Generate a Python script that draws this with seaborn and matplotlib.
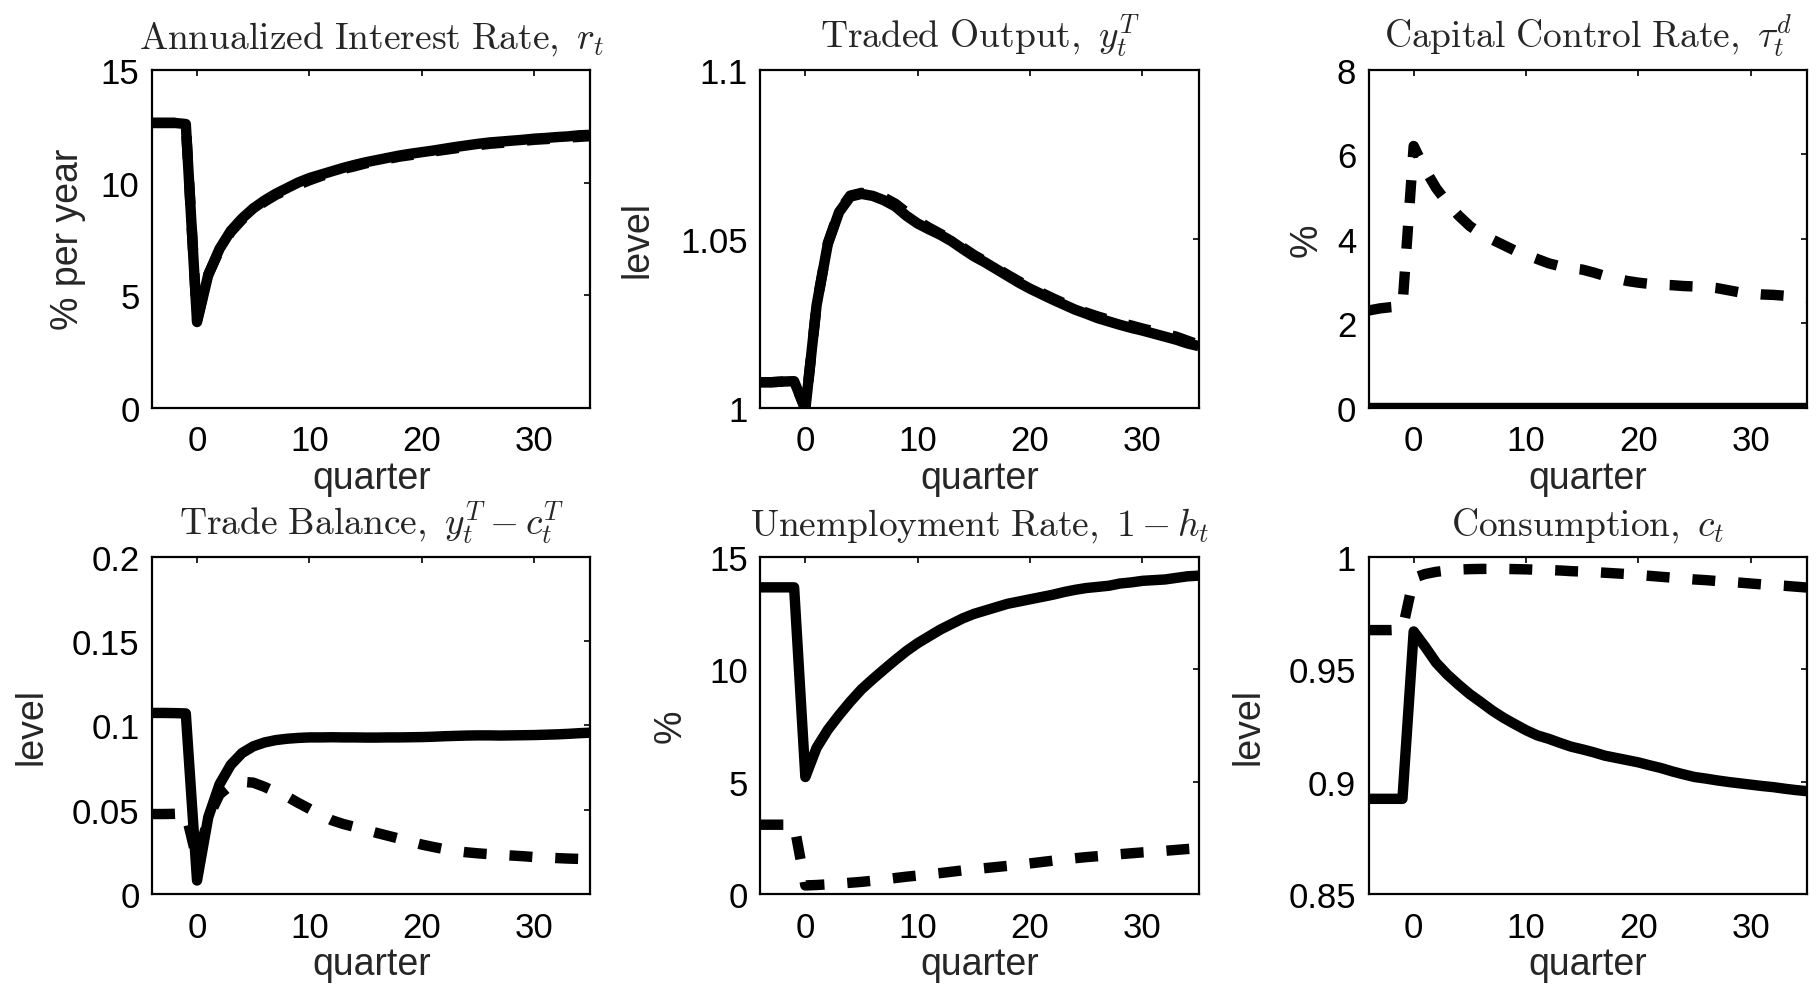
import matplotlib
matplotlib.use("Agg")
import matplotlib.pyplot as plt
import seaborn as sns
from matplotlib.ticker import FormatStrFormatter

# ── data ───────────────────────────────────────────────────────
quarters = list(range(-4, 36))

rate_solid = [12.65, 12.65, 12.65, 12.6, 3.8, 5.9, 7.05, 7.85, 8.4, 8.85,
              9.2, 9.5, 9.75, 10.0, 10.2, 10.35, 10.5, 10.65, 10.78, 10.9,
              11.0, 11.1, 11.2, 11.28, 11.35, 11.42, 11.5, 11.58, 11.65, 11.72,
              11.78, 11.82, 11.86, 11.9, 11.95, 11.98, 12.02, 12.05, 12.1, 12.12]
rate_dash = [12.65, 12.65, 12.65, 12.6, 3.9, 5.9, 7.0, 7.8, 8.35, 8.8,
             9.15, 9.45, 9.68, 9.9, 10.1, 10.28, 10.45, 10.6, 10.72, 10.85,
             10.95, 11.05, 11.15, 11.22, 11.3, 11.38, 11.45, 11.52, 11.6, 11.66,
             11.72, 11.76, 11.8, 11.85, 11.9, 11.93, 11.96, 12.0, 12.03, 12.06]

yT_solid = [1.0075, 1.0075, 1.0077, 1.0078, 0.9995, 1.0303, 1.0485, 1.0579, 1.0625, 1.0633,
            1.0627, 1.0614, 1.0596, 1.0568, 1.0545, 1.0528, 1.0512, 1.0493, 1.0470, 1.0448,
            1.0430, 1.0410, 1.0390, 1.0370, 1.0352, 1.0336, 1.0320, 1.0305, 1.0290, 1.0278,
            1.0265, 1.0255, 1.0245, 1.0236, 1.0228, 1.0219, 1.0210, 1.0201, 1.0190, 1.0182]
yT_dash = [1.0075, 1.0075, 1.0077, 1.0078, 0.9995, 1.0303, 1.0487, 1.0582, 1.0628, 1.0636,
           1.0632, 1.0622, 1.0604, 1.0578, 1.0553, 1.0533, 1.0515, 1.0497, 1.0474, 1.0452,
           1.0433, 1.0413, 1.0393, 1.0374, 1.0355, 1.0340, 1.0324, 1.0309, 1.0294, 1.0281,
           1.0270, 1.0260, 1.0251, 1.0243, 1.0234, 1.0226, 1.0218, 1.0210, 1.0198, 1.0186]

tau_solid = [0.0] * 40
tau_dash = [2.3, 2.35, 2.38, 2.4, 6.2, 5.65, 5.2, 4.85, 4.55, 4.3,
            4.12, 3.98, 3.85, 3.72, 3.62, 3.52, 3.42, 3.35, 3.3, 3.27,
            3.2, 3.12, 3.06, 3.0, 2.96, 2.93, 2.91, 2.9, 2.88, 2.87,
            2.86, 2.83, 2.78, 2.73, 2.7, 2.68, 2.67, 2.65, 2.63, 2.6]

tb_solid = [0.1073, 0.1073, 0.1072, 0.1070, 0.008, 0.0455, 0.065, 0.0765, 0.0835, 0.0875,
            0.0898, 0.0912, 0.092, 0.0925, 0.0928, 0.0928, 0.0929, 0.0928, 0.0928, 0.0927,
            0.0927, 0.0928, 0.0928, 0.0929, 0.093, 0.0932, 0.0935, 0.0937, 0.0939, 0.094,
            0.094, 0.0939, 0.094, 0.0941, 0.0942, 0.0944, 0.0946, 0.0949, 0.0953, 0.0956]
tb_dash = [0.0474, 0.0474, 0.0475, 0.0478, 0.02, 0.045, 0.059, 0.0645, 0.0665, 0.066,
           0.0635, 0.0605, 0.0578, 0.054, 0.0505, 0.047, 0.0437, 0.0415, 0.0398, 0.038,
           0.0362, 0.0345, 0.0328, 0.031, 0.0293, 0.0279, 0.0266, 0.0255, 0.0247, 0.0241,
           0.0236, 0.0232, 0.0228, 0.0224, 0.0219, 0.0216, 0.0213, 0.021, 0.0208, 0.0205]

unemp_solid = [13.63, 13.63, 13.63, 13.63, 5.2, 6.5, 7.3, 7.95, 8.55, 9.1,
               9.55, 9.98, 10.4, 10.8, 11.15, 11.45, 11.75, 12.0, 12.25, 12.45,
               12.6, 12.75, 12.9, 13.0, 13.1, 13.2, 13.3, 13.42, 13.52, 13.6,
               13.65, 13.7, 13.8, 13.85, 13.92, 13.95, 13.98, 14.05, 14.12, 14.15]
unemp_dash = [3.08, 3.08, 3.08, 3.08, 0.38, 0.4, 0.43, 0.46, 0.5, 0.54,
              0.59, 0.65, 0.71, 0.77, 0.82, 0.88, 0.93, 0.99, 1.05, 1.1,
              1.15, 1.2, 1.25, 1.3, 1.36, 1.42, 1.48, 1.53, 1.59, 1.64,
              1.68, 1.72, 1.77, 1.81, 1.85, 1.88, 1.92, 1.96, 2.0, 2.03]

cons_solid = [0.8923, 0.8923, 0.8923, 0.8923, 0.9667, 0.960, 0.9528, 0.9475, 0.943, 0.9388,
              0.9352, 0.9315, 0.9283, 0.9255, 0.9228, 0.9205, 0.919, 0.9172, 0.9155, 0.9143,
              0.913, 0.9115, 0.9105, 0.9095, 0.9085, 0.9072, 0.906, 0.9045, 0.9032, 0.902,
              0.9013, 0.9005, 0.8998, 0.8992, 0.8986, 0.898, 0.8975, 0.8968, 0.8962, 0.8957]
cons_dash = [0.9673, 0.9673, 0.9673, 0.9675, 0.9905, 0.9922, 0.9932, 0.9938, 0.9942, 0.9944,
             0.9945, 0.9945, 0.9945, 0.9944, 0.9943, 0.9941, 0.994, 0.9938, 0.9935, 0.9933,
             0.9931, 0.9928, 0.9925, 0.9922, 0.9918, 0.9914, 0.991, 0.9906, 0.9902, 0.9898,
             0.9895, 0.9891, 0.9888, 0.9884, 0.988, 0.9876, 0.9873, 0.987, 0.9866, 0.9862]

titles = [r"$\mathrm{Annualized\ Interest\ Rate,}\ r_t$",
          r"$\mathrm{Traded\ Output,}\ y_t^T$",
          r"$\mathrm{Capital\ Control\ Rate,}\ \tau_t^d$",
          r"$\mathrm{Trade\ Balance,}\ y_t^T - c_t^T$",
          r"$\mathrm{Unemployment\ Rate,}\ 1 - h_t$",
          r"$\mathrm{Consumption,}\ c_t$"]
ylabels = ["% per year", "level", "%", "level", "%", "level"]
yticks = [[0, 5, 10, 15], [1, 1.05, 1.1], [0, 2, 4, 6, 8],
          [0, 0.05, 0.1, 0.15, 0.2], [0, 5, 10, 15], [0.85, 0.9, 0.95, 1]]
series = [(rate_solid, rate_dash), (yT_solid, yT_dash), (tau_solid, tau_dash),
          (tb_solid, tb_dash), (unemp_solid, unemp_dash), (cons_solid, cons_dash)]
ylabel_pads = [11, 18, 9, 16, 15, 16]

# ── style ──────────────────────────────────────────────────────
sns.set_style("white")
plt.rcParams["font.family"] = ["Liberation Sans", "DejaVu Sans"]
plt.rcParams["mathtext.fontset"] = "cm"

fig, axes = plt.subplots(2, 3, figsize=(18.17, 9.95), dpi=100)
fig.subplots_adjust(left=0.0837, right=0.9945, top=0.9286, bottom=0.1005,
                    wspace=0.388, hspace=0.4415)

for ax, (solid, dash), title, ylab, yt, lp in zip(axes.flat, series, titles,
                                                 ylabels, yticks, ylabel_pads):
    sns.lineplot(x=quarters, y=dash, ax=ax, color="black", lw=7.5,
                 linestyle=(0, (2.2, 2.2)), dash_capstyle="butt")
    sns.lineplot(x=quarters, y=solid, ax=ax, color="black", lw=7.5,
                 solid_joinstyle="round", solid_capstyle="butt")
    ax.set_xlim(-4, 35)
    ax.set_ylim(yt[0], yt[-1])
    ax.set_xticks([0, 10, 20, 30])
    ax.set_yticks(yt)
    ax.yaxis.set_major_formatter(FormatStrFormatter("%g"))
    ax.tick_params(direction="in", length=4, width=1.2, top=True, right=True,
                   labelsize=25, colors="black")
    ax.tick_params(axis="x", pad=12)
    ax.tick_params(axis="y", pad=9)
    for s in ax.spines.values():
        s.set_linewidth(1.6)
        s.set_color("black")
    ax.set_title(title, fontsize=27, pad=16)
    ax.set_xlabel("quarter", fontsize=27, labelpad=2)
    ax.set_ylabel(ylab, fontsize=27, labelpad=lp)

plt.savefig("out.png", dpi=100)
